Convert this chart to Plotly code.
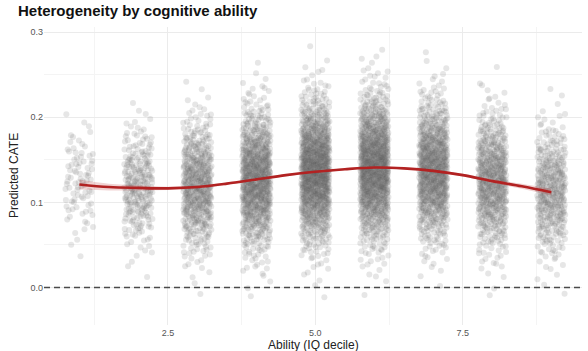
import plotly.graph_objects as go
from statistics import NormalDist

# ---- data ----
deciles = [1, 2, 3, 4, 5, 6, 7, 8, 9]
n_points = [85, 250, 500, 750, 950, 950, 750, 550, 380]
decile_center = [0.125, 0.119, 0.119, 0.127, 0.136, 0.140, 0.137, 0.125, 0.113]
decile_spread = [0.035, 0.037, 0.041, 0.044, 0.045, 0.046, 0.044, 0.043, 0.040]

smooth_x = [1, 1.5, 2, 2.5, 3, 3.5, 4, 4.5, 5, 5.5, 6, 6.5, 7, 7.5, 8, 8.5, 9]
smooth_y = [0.121, 0.118, 0.117, 0.1165, 0.118, 0.122, 0.127, 0.132, 0.136,
            0.139, 0.141, 0.140, 0.137, 0.132, 0.125, 0.119, 0.112]
smooth_se = [0.006, 0.004, 0.003, 0.002, 0.0018, 0.0015, 0.0013, 0.0012, 0.0011,
             0.0011, 0.0011, 0.0012, 0.0013, 0.0015, 0.002, 0.003, 0.004]

x_ticks = [2.5, 5.0, 7.5]
y_ticks = [0.0, 0.1, 0.2, 0.3]


def halton(i, base):
    f, r = 1.0, 0.0
    while i > 0:
        f /= base
        r += f * (i % base)
        i //= base
    return r


# ---- build point cloud from per-decile summaries (deterministic Halton layout) ----
nd = NormalDist()
px, py = [], []
k = 37
for d, n, c, s in zip(deciles, n_points, decile_center, decile_spread):
    for i in range(n):
        k += 1
        u = halton(k, 2)
        q = halton(k, 3)
        q = min(max(q, 0.5 / n), 1 - 0.5 / n)
        py.append(c + s * nd.inv_cdf(q))
        px.append(d + (u - 0.5) * 0.48)

fig = go.Figure()
fig.add_trace(go.Scatter(
    x=px, y=py, mode="markers",
    marker=dict(color="rgba(85,85,85,0.15)", size=6, line=dict(width=0)),
    hoverinfo="skip", showlegend=False))

upper = [y + s for y, s in zip(smooth_y, smooth_se)]
lower = [y - s for y, s in zip(smooth_y, smooth_se)]
fig.add_trace(go.Scatter(x=smooth_x, y=upper, mode="lines", line=dict(width=0, shape="spline"),
                         showlegend=False, hoverinfo="skip"))
fig.add_trace(go.Scatter(x=smooth_x, y=lower, mode="lines", line=dict(width=0, shape="spline"),
                         fill="tonexty", fillcolor="rgba(178,34,34,0.2)",
                         showlegend=False, hoverinfo="skip"))
fig.add_trace(go.Scatter(x=smooth_x, y=smooth_y, mode="lines",
                         line=dict(color="#b22222", width=2.6, shape="spline"),
                         showlegend=False, hoverinfo="skip"))

fig.add_hline(y=0, line=dict(color="#4a4a4a", width=1.4, dash="6px,4px"))

fig.add_annotation(text="Ability (IQ decile)", xref="paper", yref="paper",
                   x=0.5, y=-11 / 298, xanchor="center", yanchor="top",
                   showarrow=False, font=dict(size=12, color="#222222"))
fig.add_annotation(text="Predicted CATE", xref="paper", yref="paper",
                   x=-30 / 538, y=0.5, xanchor="center", yanchor="middle", textangle=-90,
                   showarrow=False, font=dict(size=12, color="#222222"))

fig.update_layout(
    width=588, height=351,
    margin=dict(l=44, r=6, t=27, b=26),
    paper_bgcolor="white", plot_bgcolor="white",
    font=dict(family="Liberation Sans, Arial, sans-serif", color="#222222"),
    title=dict(text="<b>Heterogeneity by cognitive ability</b>",
               x=18 / 588, xref="container", xanchor="left",
               y=1 - 5 / 351, yref="container", yanchor="top",
               font=dict(size=15, color="#111111")),
    xaxis=dict(range=[0.40, 9.52], tickvals=x_ticks, ticktext=["2.5", "5.0", "7.5"],
               automargin=False,
               showgrid=True, gridcolor="#ebebeb", gridwidth=1, zeroline=False,
               showline=False, ticks="", tickfont=dict(size=9, color="#555555"),
               ticklabelstandoff=1,
               minor=dict(dtick=2.5, tick0=1.25, showgrid=True, gridcolor="#f4f4f4", gridwidth=0.6)),
    yaxis=dict(range=[-0.044, 0.306], tickvals=y_ticks, ticktext=["0.0", "0.1", "0.2", "0.3"],
               automargin=False,
               showgrid=True, gridcolor="#ebebeb", gridwidth=1, zeroline=False,
               showline=False, ticks="", tickfont=dict(size=9, color="#555555"),
               minor=dict(dtick=0.1, tick0=0.05, showgrid=True, gridcolor="#f4f4f4", gridwidth=0.6)),
)

fig.write_html("out.html")
